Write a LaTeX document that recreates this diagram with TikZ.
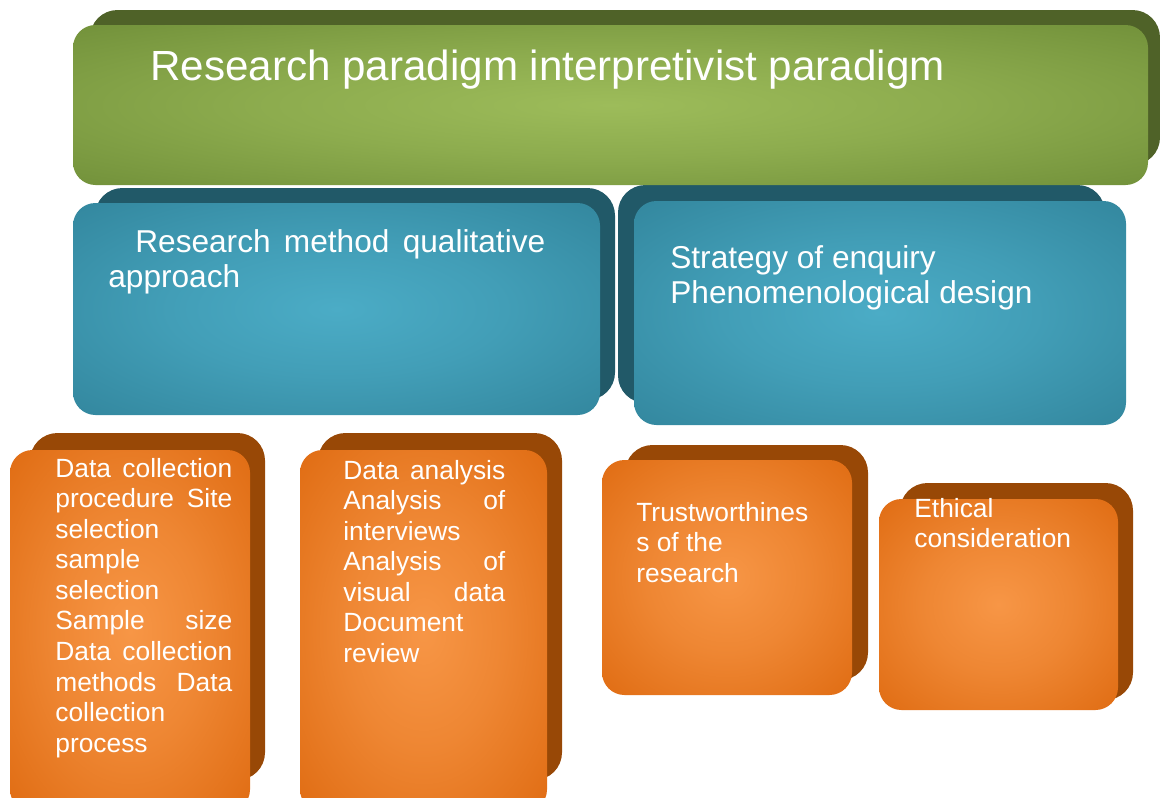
\documentclass[tikz,border=0pt]{standalone}
\usepackage{fontspec}
\setmainfont{Liberation Sans}
\usetikzlibrary{positioning}

\definecolor{paradigmback}{HTML}{4F6228}
\definecolor{paradigmedge}{HTML}{6F8E38}
\definecolor{paradigmcore}{HTML}{9DBC5A}
\definecolor{methodback}{HTML}{215968}
\definecolor{methodedge}{HTML}{31849B}
\definecolor{methodcore}{HTML}{4BACC6}
\definecolor{stageback}{HTML}{984806}
\definecolor{stageedge}{HTML}{DE690F}
\definecolor{stagecore}{HTML}{F79646}
\colorlet{paradigmmid}{paradigmcore!65!paradigmedge}
\colorlet{methodmid}{methodcore!65!methodedge}
\colorlet{stagemid}{stagecore!65!stageedge}

\pgfdeclareradialshading{paradigmglow}{\pgfpoint{0bp}{0bp}}{color(0bp)=(paradigmcore); color(16bp)=(paradigmmid); color(38bp)=(paradigmedge); color(50bp)=(paradigmedge)}
\pgfdeclareradialshading{methodglow}{\pgfpoint{0bp}{0bp}}{color(0bp)=(methodcore); color(16bp)=(methodmid); color(38bp)=(methodedge); color(50bp)=(methodedge)}
\pgfdeclareradialshading{stageglow}{\pgfpoint{0bp}{0bp}}{color(0bp)=(stagecore); color(16bp)=(stagemid); color(38bp)=(stageedge); color(50bp)=(stageedge)}

\newcommand{\spread}[2]{\makebox[#1][s]{\spaceskip=0pt\relax #2}}

\tikzset{
  backbox/.style={rounded corners=0.55cm},
  frontbox/.style={rounded corners=0.45cm},
  boxtext/.style={text=white, inner sep=0pt, anchor=base west, align=flush left},
  bigtext/.style={boxtext, font=\fontsize{24}{29}\selectfont},
  midtext/.style={boxtext, font=\fontsize{18}{20.4}\selectfont},
  smalltext/.style={boxtext, font=\fontsize{15}{17.4}\selectfont},
}

\begin{document}
\begin{tikzpicture}[x=0.02cm, y=-0.02cm]
\useasboundingbox (0,0) rectangle (1160,798);
\clip (0,0) rectangle (1160,798);

% back plates
\fill[backbox, paradigmback] (90,10) rectangle (1160,165);
\fill[backbox, methodback] (95,188) rectangle (615,400);
\fill[backbox, methodback] (618,185) rectangle (1105,403);
\fill[backbox, stageback] (30,433) rectangle (265,780);
\fill[backbox, stageback] (318,433) rectangle (562,780);
\fill[backbox, stageback] (625,445) rectangle (868,680);
\fill[backbox, stageback] (900,483) rectangle (1133,700);

% front plates
\shade[frontbox, shading=paradigmglow] (73,25) rectangle (1148,185);
\shade[frontbox, shading=methodglow] (73,203) rectangle (600,415);
\shade[frontbox, shading=methodglow] (634,201) rectangle (1126,425);
\shade[frontbox, shading=stageglow] (10,450) rectangle (250,812);
\shade[frontbox, shading=stageglow] (300,450) rectangle (547,812);
\shade[frontbox, shading=stageglow] (602,460) rectangle (852,695);
\shade[frontbox, shading=stageglow] (879,499) rectangle (1118,710);

% texts
\node[bigtext] (paradigm) at (150,80) {Research paradigm interpretivist paradigm};
\node[midtext, text width=8.74cm] (method) at (108,252)
  {\hspace*{0.54cm}\spread{8.2cm}{Research method qualitative}\\approach};
\node[midtext, text width=8cm] (strategy) at (670,268) {Strategy of enquiry\\Phenomenological design};
\node[smalltext, text width=3.54cm] (collection) at (55,477)
  {\spread{3.54cm}{Data collection}\\\spread{3.54cm}{procedure Site}\\selection\\sample\\selection\\
   \spread{3.54cm}{Sample size}\\\spread{3.54cm}{Data collection}\\\spread{3.54cm}{methods Data}\\collection\\process};
\node[smalltext, text width=3.24cm] (analysis) at (343,479)
  {\spread{3.24cm}{Data analysis}\\\spread{3.24cm}{Analysis of}\\interviews\\\spread{3.24cm}{Analysis of}\\
   \spread{3.24cm}{visual data}\\Document\\review};
\node[smalltext, text width=3.8cm] (trust) at (636,521) {Trustworthines\\s of the\\research};
\node[smalltext, text width=3.8cm] (ethics) at (914,517) {Ethical\\consideration};
\end{tikzpicture}
\end{document}
